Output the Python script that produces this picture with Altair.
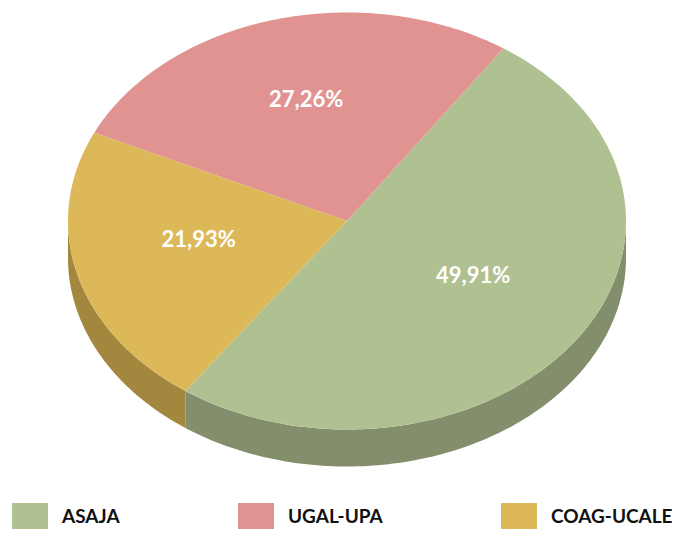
import altair as alt
import pandas as pd

# ---- data ----
categories = ["ASAJA", "UGAL-UPA", "COAG-UCALE"]
shares = [49.91, 27.26, 21.93]

# ---- styles ----
top_colors = ["#b0c191", "#e09391", "#dcb858"]
side_colors = ["#838f6c", "#b07472", "#a3873f"]

df = pd.DataFrame({"cat": categories, "value": shares, "idx": list(range(len(categories)))})

# ellipse geometry (pixels in the view)
CX, CY, A, B, DEPTH = 339, 213, 279, 208.5, 37
T0 = 234.6   # start angle of first slice, degrees (counter-clockwise)
N = 120      # points per arc
LR = 0.55    # label radius fraction

base = (
    alt.Chart(df)
    .transform_joinaggregate(total="sum(value)")
    .transform_window(cum="sum(value)", sort=[alt.SortField("idx")], frame=[None, 0])
    .transform_calculate(
        ts0=f"{T0}*PI/180 + 2*PI*(datum.cum - datum.value)/datum.total",
        te0=f"{T0}*PI/180 + 2*PI*datum.cum/datum.total",
    )
    .transform_calculate(shift="datum.ts0 >= 2*PI ? 2*PI : 0")
    .transform_calculate(ts="datum.ts0 - datum.shift", te="datum.te0 - datum.shift")
)

X = alt.X("px:Q", scale=None, axis=None)
Y = alt.Y("py:Q", scale=None, axis=None)

side = (
    base.transform_calculate(lo="max(datum.ts, PI)", hi="min(datum.te, 2*PI)")
    .transform_filter("datum.hi > datum.lo")
    .transform_calculate(k=f"sequence(0, {2 * N + 2})")
    .transform_flatten(["k"])
    .transform_calculate(
        t=f"datum.k <= {N} ? datum.lo + (datum.hi - datum.lo)*datum.k/{N} : "
          f"datum.hi - (datum.hi - datum.lo)*(datum.k - {N + 1})/{N}"
    )
    .transform_calculate(
        px=f"{CX} + {A}*cos(datum.t)",
        py=f"{CY} - {B}*sin(datum.t) + (datum.k > {N} ? {DEPTH} : 0)",
    )
    .mark_line(filled=True, strokeWidth=0)
    .encode(
        x=X, y=Y, order=alt.Order("k:Q"),
        fill=alt.Fill("cat:N", scale=alt.Scale(domain=categories, range=side_colors), legend=None),
    )
)

top = (
    base.transform_calculate(k=f"sequence(0, {N + 2})")
    .transform_flatten(["k"])
    .transform_calculate(t=f"datum.ts + (datum.te - datum.ts)*max(datum.k - 1, 0)/{N}")
    .transform_calculate(
        px=f"datum.k == 0 ? {CX} : {CX} + {A}*cos(datum.t)",
        py=f"datum.k == 0 ? {CY} : {CY} - {B}*sin(datum.t)",
    )
    .mark_line(filled=True, strokeWidth=0)
    .encode(
        x=X, y=Y, order=alt.Order("k:Q"),
        fill=alt.Fill(
            "cat:N",
            scale=alt.Scale(domain=categories, range=top_colors),
            legend=alt.Legend(
                title=None, orient="none", legendX=4, legendY=491, direction="horizontal",
                symbolType="M-1,-0.8H1V0.8H-1Z", symbolSize=1296, symbolStrokeWidth=0,
                symbolOpacity=1, labelFont="Lato", labelFontSize=19, labelFontWeight="bold",
                labelColor="#111111", labelOffset=14, columnPadding=118, labelLimit=300,
            ),
        ),
    )
)

labels = (
    base.transform_calculate(
        tm="(datum.ts + datum.te)/2",
        lbl="replace(format(datum.value, '.2f'), '.', ',') + '%'",
    )
    .transform_calculate(
        px=f"{CX} + {LR}*{A}*cos(datum.tm)",
        py=f"{CY} - {LR}*{B}*sin(datum.tm) - 10",
    )
    .mark_text(font="Lato", fontSize=22, fontWeight="bold", color="white")
    .encode(x=X, y=Y, text="lbl:N")
)

chart = (
    alt.layer(side, top, labels)
    .resolve_scale(fill="independent")
    .properties(width=665, height=521, padding=0, autosize="none")
    .configure_view(stroke=None)
)

chart.save("out.html", embed_options={"renderer": "svg", "actions": False})
